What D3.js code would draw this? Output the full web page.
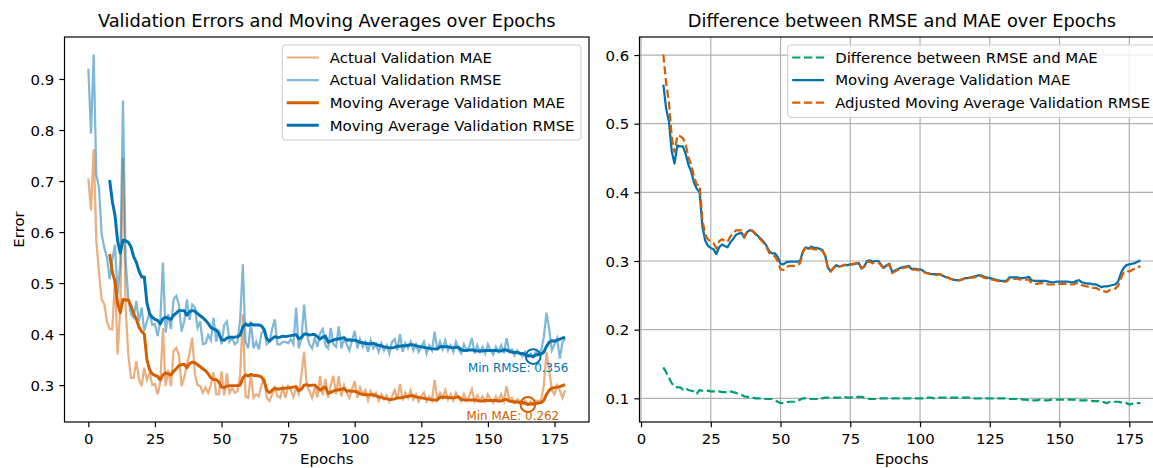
<!DOCTYPE html>
<html>
<head>
<meta charset="utf-8">
<script src="https://cdn.jsdelivr.net/npm/d3@7"></script>
<style>
  body { margin: 0; background: #fff; }
  text { font-family: "DejaVu Sans", sans-serif; }
</style>
</head>
<body>
<svg id="chart" width="1153" height="468"></svg>
<script>
// ---- data ----
const epochs = d3.range(180);
const maStart = 8; // first epoch with a moving average value

const actualMAE = [
  0.705, 0.643, 0.762, 0.582, 0.520, 0.468, 0.459, 0.425, 0.410, 0.409,
  0.510, 0.360, 0.452, 0.745, 0.450, 0.360, 0.314, 0.314, 0.347, 0.312,
  0.298, 0.334, 0.310, 0.324, 0.300, 0.302, 0.282, 0.305, 0.412, 0.298,
  0.330, 0.298, 0.367, 0.373, 0.360, 0.298, 0.315, 0.340, 0.362, 0.393,
  0.322, 0.300, 0.298, 0.285, 0.295, 0.285, 0.300, 0.325, 0.282, 0.282,
  0.327, 0.280, 0.323, 0.285, 0.295, 0.285, 0.288, 0.320, 0.439, 0.278,
  0.275, 0.322, 0.275, 0.282, 0.278, 0.300, 0.314, 0.275, 0.269, 0.282,
  0.295, 0.278, 0.275, 0.295, 0.275, 0.298, 0.290, 0.277, 0.295, 0.282,
  0.320, 0.365, 0.300, 0.288, 0.275, 0.295, 0.276, 0.318, 0.280, 0.312,
  0.275, 0.300, 0.318, 0.282, 0.318, 0.278, 0.300, 0.285, 0.275, 0.292,
  0.308, 0.275, 0.295, 0.282, 0.290, 0.270, 0.288, 0.278, 0.285, 0.270,
  0.282, 0.272, 0.280, 0.268, 0.278, 0.290, 0.272, 0.302, 0.270, 0.285,
  0.275, 0.290, 0.272, 0.282, 0.268, 0.278, 0.285, 0.268, 0.278, 0.270,
  0.310, 0.272, 0.285, 0.275, 0.290, 0.272, 0.282, 0.270, 0.285, 0.275,
  0.268, 0.282, 0.270, 0.278, 0.292, 0.268, 0.280, 0.270, 0.278, 0.268,
  0.282, 0.272, 0.265, 0.278, 0.270, 0.282, 0.268, 0.298, 0.272, 0.275,
  0.265, 0.272, 0.268, 0.262, 0.270, 0.262, 0.268, 0.262, 0.270, 0.268,
  0.272, 0.300, 0.365, 0.330, 0.290, 0.282, 0.300, 0.290, 0.275, 0.290
];

const actualRMSE = [
  0.920, 0.793, 0.948, 0.712, 0.687, 0.596, 0.569, 0.550, 0.508, 0.545,
  0.575, 0.478, 0.540, 0.858, 0.545, 0.470, 0.439, 0.432, 0.465, 0.425,
  0.452, 0.406, 0.425, 0.442, 0.418, 0.420, 0.396, 0.425, 0.540, 0.403,
  0.439, 0.410, 0.468, 0.475, 0.458, 0.405, 0.425, 0.468, 0.428, 0.458,
  0.452, 0.412, 0.425, 0.380, 0.382, 0.398, 0.388, 0.432, 0.385, 0.408,
  0.380, 0.418, 0.425, 0.385, 0.392, 0.380, 0.385, 0.430, 0.537, 0.385,
  0.372, 0.425, 0.372, 0.385, 0.370, 0.402, 0.408, 0.380, 0.385, 0.410,
  0.429, 0.380, 0.380, 0.385, 0.385, 0.382, 0.390, 0.380, 0.452, 0.372,
  0.392, 0.458, 0.400, 0.380, 0.372, 0.392, 0.375, 0.402, 0.410, 0.378,
  0.372, 0.412, 0.380, 0.375, 0.415, 0.372, 0.392, 0.380, 0.368, 0.388,
  0.406, 0.372, 0.390, 0.375, 0.385, 0.365, 0.388, 0.372, 0.380, 0.365,
  0.382, 0.368, 0.378, 0.362, 0.385, 0.390, 0.368, 0.400, 0.365, 0.382,
  0.372, 0.385, 0.368, 0.380, 0.365, 0.375, 0.385, 0.362, 0.378, 0.368,
  0.405, 0.368, 0.385, 0.370, 0.388, 0.368, 0.378, 0.365, 0.385, 0.370,
  0.362, 0.380, 0.368, 0.375, 0.392, 0.362, 0.378, 0.365, 0.375, 0.362,
  0.380, 0.368, 0.360, 0.375, 0.365, 0.378, 0.362, 0.392, 0.368, 0.370,
  0.358, 0.368, 0.362, 0.356, 0.365, 0.356, 0.362, 0.355, 0.365, 0.362,
  0.368, 0.395, 0.442, 0.410, 0.368, 0.380, 0.392, 0.352, 0.385, 0.390
];

// moving averages, epochs 8..179
const maMAE = [
                                                                0.557, 0.522,
  0.503, 0.460, 0.442, 0.468, 0.467, 0.467, 0.456, 0.440, 0.430, 0.414,
  0.405, 0.400, 0.350, 0.330, 0.322, 0.319, 0.317, 0.310, 0.320, 0.324,
  0.322, 0.320, 0.327, 0.332, 0.338, 0.340, 0.341, 0.334, 0.342, 0.345,
  0.344, 0.340, 0.336, 0.332, 0.328, 0.322, 0.314, 0.311, 0.311, 0.306,
  0.296, 0.295, 0.298, 0.299, 0.299, 0.299, 0.299, 0.300, 0.314, 0.320,
  0.318, 0.321, 0.319, 0.319, 0.318, 0.316, 0.308, 0.290, 0.285, 0.290,
  0.294, 0.292, 0.293, 0.294, 0.294, 0.295, 0.295, 0.296, 0.297, 0.289,
  0.292, 0.300, 0.301, 0.299, 0.300, 0.300, 0.295, 0.290, 0.294, 0.296,
  0.284, 0.286, 0.288, 0.290, 0.291, 0.292, 0.293, 0.288, 0.289, 0.288,
  0.288, 0.286, 0.283, 0.282, 0.281, 0.281, 0.281, 0.281, 0.279, 0.277,
  0.276, 0.274, 0.273, 0.272, 0.272, 0.273, 0.275, 0.275, 0.276, 0.277,
  0.278, 0.279, 0.279, 0.277, 0.276, 0.275, 0.274, 0.273, 0.272, 0.271,
  0.271, 0.271, 0.276, 0.276, 0.276, 0.276, 0.275, 0.275, 0.276, 0.277,
  0.272, 0.271, 0.271, 0.271, 0.271, 0.271, 0.270, 0.269, 0.269, 0.270,
  0.270, 0.270, 0.270, 0.270, 0.269, 0.269, 0.271, 0.272, 0.269, 0.268,
  0.267, 0.267, 0.266, 0.266, 0.264, 0.262, 0.263, 0.263, 0.264, 0.265,
  0.266, 0.270, 0.282, 0.290, 0.294, 0.295, 0.296, 0.297, 0.299, 0.301
];

const maRMSE = [
                                                                0.702, 0.660,
  0.633, 0.582, 0.559, 0.584, 0.583, 0.580, 0.571, 0.552, 0.541, 0.524,
  0.512, 0.512, 0.461, 0.440, 0.433, 0.429, 0.427, 0.420, 0.430, 0.433,
  0.431, 0.429, 0.437, 0.441, 0.446, 0.446, 0.446, 0.437, 0.444, 0.446,
  0.445, 0.440, 0.436, 0.432, 0.427, 0.421, 0.413, 0.410, 0.408, 0.401,
  0.389, 0.388, 0.392, 0.394, 0.394, 0.394, 0.395, 0.398, 0.414, 0.420,
  0.417, 0.420, 0.418, 0.418, 0.418, 0.416, 0.409, 0.391, 0.386, 0.391,
  0.395, 0.393, 0.394, 0.396, 0.395, 0.396, 0.397, 0.398, 0.399, 0.391,
  0.393, 0.400, 0.400, 0.398, 0.399, 0.399, 0.395, 0.390, 0.394, 0.396,
  0.384, 0.386, 0.388, 0.390, 0.391, 0.392, 0.393, 0.388, 0.389, 0.388,
  0.388, 0.386, 0.384, 0.383, 0.382, 0.381, 0.381, 0.382, 0.380, 0.378,
  0.377, 0.375, 0.374, 0.373, 0.373, 0.374, 0.376, 0.376, 0.377, 0.377,
  0.378, 0.379, 0.379, 0.377, 0.376, 0.375, 0.374, 0.373, 0.372, 0.371,
  0.371, 0.371, 0.375, 0.375, 0.375, 0.375, 0.374, 0.373, 0.374, 0.374,
  0.369, 0.368, 0.368, 0.369, 0.369, 0.368, 0.367, 0.367, 0.367, 0.368,
  0.368, 0.368, 0.368, 0.368, 0.367, 0.367, 0.369, 0.369, 0.366, 0.365,
  0.364, 0.364, 0.362, 0.362, 0.360, 0.358, 0.357, 0.356, 0.359, 0.360,
  0.361, 0.365, 0.376, 0.384, 0.387, 0.386, 0.388, 0.390, 0.392, 0.394
];

const xTicks = [0, 25, 50, 75, 100, 125, 150, 175];
const yTicksLeft = [0.3, 0.4, 0.5, 0.6, 0.7, 0.8, 0.9];
const yTicksRight = [0.1, 0.2, 0.3, 0.4, 0.5, 0.6];

// derived series (as in the original script)
const maEpochs = d3.range(maStart, maStart + maMAE.length);
const diff = maRMSE.map((v, i) => v - maMAE[i]);
const meanDiff = d3.mean(diff);
const adjRMSE = maRMSE.map(v => v - meanDiff);

// ---- styles ----
const C = { mae: '#D55E00', rmse: '#0072B2', diff: '#009E73' };
const FONT = 14.9;
const LW = 2.23;
const DASH = '8.2,3.6';

const svg = d3.select('#chart');
svg.append('rect').attr('width', 1153).attr('height', 468).attr('fill', '#fff');

const LEFT = { x0: 64.5, x1: 589, y0: 37, y1: 422 };
const RIGHT = { x0: 639.5, x1: 1164.3, y0: 37, y1: 422 };

function padded(ext) {
  const m = (ext[1] - ext[0]) * 0.05;
  return [ext[0] - m, ext[1] + m];
}

function drawAxes(box, x, y, yTicks, grid) {
  const g = svg.append('g');
  if (grid) {
    const gg = g.append('g');
    gg.selectAll('line.gx').data(xTicks).join('line')
      .attr('x1', d => x(d)).attr('x2', d => x(d))
      .attr('y1', box.y0).attr('y2', box.y1)
      .attr('stroke', '#b0b0b0').attr('stroke-width', 1.19);
    gg.selectAll('line.gy').data(yTicks).join('line')
      .attr('y1', d => y(d)).attr('y2', d => y(d))
      .attr('x1', box.x0).attr('x2', box.x1)
      .attr('stroke', '#b0b0b0').attr('stroke-width', 1.19);
  }
  const xa = g.append('g').attr('transform', `translate(0,${box.y1})`)
    .call(d3.axisBottom(x).tickValues(xTicks).tickSize(5.2).tickPadding(5.2).tickSizeOuter(0));
  xa.selectAll('text').attr('dy', '0.76em');
  const ya = g.append('g').attr('transform', `translate(${box.x0},0)`)
    .call(d3.axisLeft(y).tickValues(yTicks).tickFormat(d3.format('.1f'))
      .tickSize(5.2).tickPadding(5.2).tickSizeOuter(0));
  ya.selectAll('text').attr('dy', '0.35em');
  [xa, ya].forEach(a => {
    a.select('.domain').remove();
    a.attr('font-size', FONT).attr('font-family', '"DejaVu Sans", sans-serif');
    a.selectAll('line').attr('stroke', '#000').attr('stroke-width', 1.19);
    a.selectAll('text').attr('fill', '#000');
  });
  return g;
}

function drawFrame(box) {
  svg.append('rect')
    .attr('x', box.x0).attr('y', box.y0)
    .attr('width', box.x1 - box.x0).attr('height', box.y1 - box.y0)
    .attr('fill', 'none').attr('stroke', '#000').attr('stroke-width', 1.19);
}

function drawLabels(box, title, ylabel) {
  const cx = (box.x0 + box.x1) / 2;
  svg.append('text').attr('x', cx).attr('y', 27)
    .attr('text-anchor', 'middle').attr('font-size', 17.8).text(title);
  svg.append('text').attr('x', cx).attr('y', 463.5)
    .attr('text-anchor', 'middle').attr('font-size', FONT).text('Epochs');
  if (ylabel) {
    svg.append('text')
      .attr('transform', `translate(${box.x0 - 41},${(box.y0 + box.y1) / 2}) rotate(-90)`)
      .attr('text-anchor', 'middle').attr('font-size', FONT).text(ylabel);
  }
}

function drawLegend(box, items) {
  const g = svg.append('g');
  const top = box.y0 + 8;
  const rowY = i => top + 12.5 + i * 22.6;
  const rect = g.append('rect');
  const texts = items.map((it, i) => g.append('text')
    .attr('y', rowY(i)).attr('dy', '0.36em').attr('font-size', FONT).text(it.label));
  const w = d3.max(texts, t => t.node().getComputedTextLength());
  const right = box.x1 - 8;
  const left = right - (47.5 + w + 6.5);
  texts.forEach(t => t.attr('x', left + 47.5));
  items.forEach((it, i) => {
    g.insert('line', 'text')
      .attr('x1', left + 4.5).attr('x2', left + 36.5)
      .attr('y1', rowY(i)).attr('y2', rowY(i))
      .attr('stroke', it.color).attr('stroke-width', it.width)
      .attr('stroke-opacity', it.opacity || 1)
      .attr('stroke-dasharray', it.dash || null);
  });
  rect.attr('x', left).attr('y', top)
    .attr('width', right - left).attr('height', rowY(items.length - 1) + 14.7 - top)
    .attr('rx', 3).attr('fill', '#fff').attr('fill-opacity', 0.8)
    .attr('stroke', '#cccccc').attr('stroke-width', 1);
}

// ---- left panel ----
const xL = d3.scaleLinear().domain(padded(d3.extent(epochs))).range([LEFT.x0, LEFT.x1]);
const yL = d3.scaleLinear()
  .domain(padded(d3.extent([...actualMAE, ...actualRMSE, ...maMAE, ...maRMSE])))
  .range([LEFT.y1, LEFT.y0]);

drawAxes(LEFT, xL, yL, yTicksLeft, false);

const lineL = (xs) => d3.line().x((d, i) => xL(xs[i])).y(d => yL(d));
const gL = svg.append('g');
gL.append('path').attr('d', lineL(epochs)(actualMAE))
  .attr('fill', 'none').attr('stroke', C.mae).attr('stroke-opacity', 0.5).attr('stroke-width', LW);
gL.append('path').attr('d', lineL(epochs)(actualRMSE))
  .attr('fill', 'none').attr('stroke', C.rmse).attr('stroke-opacity', 0.5).attr('stroke-width', LW);
gL.append('path').attr('d', lineL(maEpochs)(maMAE))
  .attr('fill', 'none').attr('stroke', C.mae).attr('stroke-width', 2.97).attr('stroke-linejoin', 'round');
gL.append('path').attr('d', lineL(maEpochs)(maRMSE))
  .attr('fill', 'none').attr('stroke', C.rmse).attr('stroke-width', 2.97).attr('stroke-linejoin', 'round');

// minimum markers
[
  { series: maRMSE, color: C.rmse, name: 'Min RMSE' },
  { series: maMAE, color: C.mae, name: 'Min MAE' }
].forEach(m => {
  const i = d3.minIndex(m.series);
  const cx = xL(maEpochs[i]);
  const cy = yL(m.series[i]);
  gL.append('circle').attr('cx', cx).attr('cy', cy).attr('r', 7.4)
    .attr('fill', 'none').attr('stroke', m.color).attr('stroke-width', 2);
  gL.append('text').attr('x', cx - 15).attr('y', cy + 15.5)
    .attr('text-anchor', 'middle').attr('font-size', 11.9).attr('fill', m.color)
    .text(`${m.name}: ${d3.format('.3f')(m.series[i])}`);
});

drawFrame(LEFT);
drawLabels(LEFT, 'Validation Errors and Moving Averages over Epochs', 'Error');
drawLegend(LEFT, [
  { label: 'Actual Validation MAE', color: C.mae, width: LW, opacity: 0.5 },
  { label: 'Actual Validation RMSE', color: C.rmse, width: LW, opacity: 0.5 },
  { label: 'Moving Average Validation MAE', color: C.mae, width: 2.97 },
  { label: 'Moving Average Validation RMSE', color: C.rmse, width: 2.97 }
]);

// ---- right panel ----
const xR = d3.scaleLinear().domain(padded(d3.extent(maEpochs))).range([RIGHT.x0, RIGHT.x1]);
const yR = d3.scaleLinear()
  .domain(padded(d3.extent([...diff, ...maMAE, ...adjRMSE])))
  .range([RIGHT.y1, RIGHT.y0]);

drawAxes(RIGHT, xR, yR, yTicksRight, true);

const lineR = d3.line().x((d, i) => xR(maEpochs[i])).y(d => yR(d));
const gR = svg.append('g');
gR.append('path').attr('d', lineR(diff))
  .attr('fill', 'none').attr('stroke', C.diff).attr('stroke-width', LW).attr('stroke-dasharray', DASH);
gR.append('path').attr('d', lineR(maMAE))
  .attr('fill', 'none').attr('stroke', C.rmse).attr('stroke-width', LW).attr('stroke-linejoin', 'round');
gR.append('path').attr('d', lineR(adjRMSE))
  .attr('fill', 'none').attr('stroke', C.mae).attr('stroke-width', LW).attr('stroke-dasharray', DASH);

drawFrame(RIGHT);
drawLabels(RIGHT, 'Difference between RMSE and MAE over Epochs', null);
drawLegend(RIGHT, [
  { label: 'Difference between RMSE and MAE', color: C.diff, width: LW, dash: DASH },
  { label: 'Moving Average Validation MAE', color: C.rmse, width: LW },
  { label: 'Adjusted Moving Average Validation RMSE', color: C.mae, width: LW, dash: DASH }
]);
</script>
</body>
</html>
